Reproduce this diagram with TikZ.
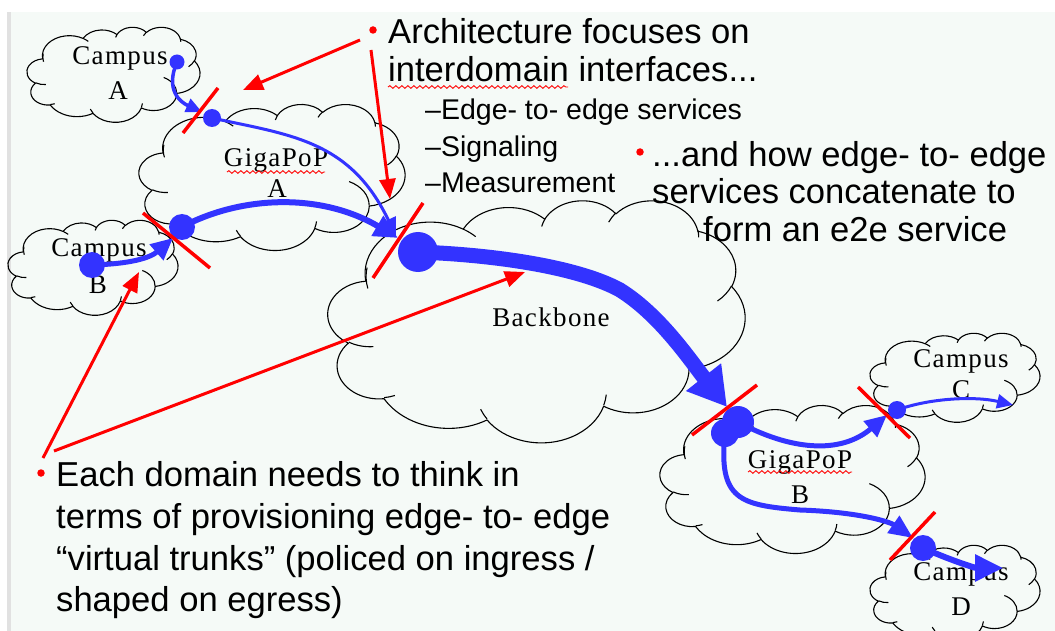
\documentclass[tikz,border=0pt]{standalone}
\usepackage{fontspec}
\setmainfont{Liberation Serif}
\newfontfamily\lblfont[LetterSpace=5]{Liberation Serif}
\newfontfamily\txtfont{Liberation Sans}
\usetikzlibrary{arrows.meta,decorations.pathmorphing}
\definecolor{panelbg}{RGB}{245,250,247}
\definecolor{pblue}{RGB}{51,51,255}
\definecolor{pred}{RGB}{255,0,0}
\definecolor{edgegray}{RGB}{225,225,225}

% DrawingML-style arc: wR hR stAng swAng (visual angles, degrees)
\newcommand\ooarc[4]{arc[x radius=#1,y radius=#2,start angle={atan2((#1)*sin(#3),(#2)*cos(#3))},delta angle={atan2((#1)*sin((#3)+(#4)),(#2)*cos((#3)+(#4)))-atan2((#1)*sin(#3),(#2)*cos(#3))-360*round((atan2((#1)*sin((#3)+(#4)),(#2)*cos((#3)+(#4)))-atan2((#1)*sin(#3),(#2)*cos(#3))-(#4))/360)}]}

\newcommand\cloudpath{%
 (39,143.7)
 \ooarc{67.53}{91.90}{-190.4875}{123.7805}
 \ooarc{53.33}{72.67}{-144.1024}{89.9452}
 \ooarc{43.65}{59.45}{-145.8079}{99.7230}
 \ooarc{48.57}{65.95}{-130.9861}{117.2417}
 \ooarc{53.33}{72.73}{-78.7089}{109.0269}
 \ooarc{67.75}{92.20}{-46.2673}{130.2690}
 \ooarc{57.85}{78.67}{0.6250}{114.0333}
 \ooarc{67.52}{92.15}{22.4516}{115.1726}
 \ooarc{77.20}{105.43}{66.2426}{75.7110}
 \ooarc{43.60}{59.18}{-274.9421}{146.7356}
 \ooarc{43.45}{59.45}{-246.8285}{152.5189}
 -- cycle}
\newcommand\cloudinner{%
 (46.93,261.77) \ooarc{43.45}{59.45}{86.7420}{26.4295}
 (69.28,348.99) \ooarc{43.60}{59.18}{73.6105}{11.4475}
 (164.78,390.90) \ooarc{67.52}{92.15}{137.6242}{14.0811}
 (288.27,347.51) \ooarc{67.52}{92.15}{6.4533}{15.9984}
 (341.29,229.54) \ooarc{57.85}{78.67}{-70.2924}{70.9174}
 (417.98,153.54) \ooarc{53.33}{72.73}{30.3180}{27.7515}
 (383.24,54.26) \ooarc{48.57}{65.95}{-13.7443}{14.8589}
 (290.78,39.52) \ooarc{48.57}{65.95}{-149.1815}{18.1954}
 (221.41,47.20) \ooarc{43.65}{59.45}{-163.4943}{17.6864}
 (140.00,51.92) \ooarc{67.53}{91.90}{-66.7070}{12.3194}
 (41.27,157.89) \ooarc{67.53}{91.90}{162.0380}{31.4554}}
\newcommand\drawcloud[5]{%
 \begin{scope}[shift={(#2,#3)},xscale=#4/432,yscale=#5/432]
  \draw[cloudline] \cloudpath;
  \draw[cloudline] \cloudinner;
  \coordinate (#1) at (216,216);
 \end{scope}}

\tikzset{
 cloudline/.style={draw=black,line width=1.1pt,line join=round},
 lbl/.style={font=\lblfont\fontsize{27}{31}\selectfont,anchor=base,inner sep=0pt},
 bigtxt/.style={font=\txtfont\fontsize{34.6}{40}\selectfont,anchor=base west,inner sep=0pt},
 subtxt/.style={font=\txtfont\fontsize{28.5}{33}\selectfont,anchor=base west,inner sep=0pt},
 bullet/.style={circle,fill=pred,inner sep=0pt,minimum size=7.5pt},
 bdot/.style={circle,fill=pblue,inner sep=0pt},
 bline/.style={draw=pblue,line cap=round},
 slash/.style={draw=pred,line width=3.5pt},
 rarrow/.style={draw=pred,line width=3pt,-{Triangle[length=20pt,width=16pt]}},
 wavy/.style={draw=pred,line width=0.9pt,decorate,decoration={snake,segment length=6pt,amplitude=1.3pt}}
}

\begin{document}
\begin{tikzpicture}[x=1pt,y=-1pt]
\useasboundingbox (0,0) rectangle (1055,631);
\fill[white] (0,0) rectangle (1055,631);
\fill[panelbg] (9,12) rectangle (1055,631);
\fill[edgegray] (7,12) rectangle (11,631);

% clouds
\drawcloud{cA}{27}{27}{173}{95}
\drawcloud{cGA}{139}{104}{266}{146}
\drawcloud{cB}{8}{220}{170}{95}
\drawcloud{cBB}{328}{200}{417}{242}
\drawcloud{cGB}{660}{405}{265}{148}
\drawcloud{cC}{870}{333}{170}{89}
\drawcloud{cD}{870}{545}{170}{95}

% cloud labels
\node[lbl] (lA1) at (120,65) {Campus};
\node[lbl] (lA2) at (118,100) {A};
\node[lbl] (lGA1) at (276,167) {GigaPoP};
\node[lbl] (lGA2) at (277,198) {A};
\node[lbl] (lB1) at (99,257) {Campus};
\node[lbl] (lB2) at (98,293) {B};
\node[lbl] (lBB) at (551,326) {Backbone};
\node[lbl] (lC1) at (961,367) {Campus};
\node[lbl] (lC2) at (961,398) {C};
\node[lbl] (lGB1) at (800,468) {GigaPoP};
\node[lbl] (lGB2) at (800,503) {B};
\node[lbl] (lD1) at (961,580) {Campus};
\node[lbl] (lD2) at (961,615) {D};
\draw[wavy] (227,172) -- (325,172);
\draw[wavy] (748,472) -- (852,472);

% blue dots
\node[bdot,minimum size=15pt] (dA) at (177,62) {};
\node[bdot,minimum size=18pt] (dGA1) at (212,118) {};
\node[bdot,minimum size=26pt] (dGA2) at (182,227) {};
\node[bdot,minimum size=26pt] (dB) at (92,265) {};
\node[bdot,minimum size=40pt] (dBB) at (418,252) {};
\node[bdot,minimum size=32pt] (dGB) at (738,422) {};
\node[bdot,minimum size=28pt] (dGB2) at (725,433) {};
\node[bdot,minimum size=18pt] (dC) at (897,410) {};
\node[bdot,minimum size=26pt] (dD) at (923,548) {};

% arrow tips
\coordinate (tA) at (202,112);
\coordinate (tGA1) at (396,236);
\coordinate (tGA2) at (398,238);
\coordinate (tB) at (173,238);
\coordinate (tBB) at (727,407);
\coordinate (tGBC) at (887,415);
\coordinate (tC) at (1013,405);
\coordinate (tGBD) at (913,538);
\coordinate (tD) at (1003,568);

% blue connectors
\draw[bline,line width=3.5pt,-{Triangle[length=16pt,width=14pt]}] (dA.center) .. controls (165,90) and (180,102) .. (tA);
\draw[bline,line width=3pt,-{Triangle[length=18pt,width=16pt]}] (dGA1.center) .. controls (290,135) and (350,140) .. (tGA1);
\draw[bline,line width=6pt,-{Triangle[length=24pt,width=22pt]}] (dGA2.center) .. controls (240,196) and (320,192) .. (tGA2);
\draw[bline,line width=5pt,-{Triangle[length=22pt,width=20pt]}] (dB.center) .. controls (130,264) and (150,258) .. (tB);
\draw[bline,line width=15pt,line cap=butt,-{Triangle[length=38pt,width=42pt]}] (dBB.center) .. controls (500,255) and (580,268) .. (620,290) .. controls (660,315) and (690,360) .. (tBB);
\draw[bline,line width=5pt,-{Triangle[length=22pt,width=20pt]}] (dGB.center) .. controls (790,450) and (840,455) .. (tGBC);
\draw[bline,line width=3pt,-{Triangle[length=16pt,width=14pt]}] (dC.center) .. controls (930,398) and (975,396) .. (tC);
\draw[bline,line width=5pt,-{Triangle[length=24pt,width=20pt]}] (dGB2.center) .. controls (718,500) and (740,505) .. (800,510) .. controls (860,512) and (890,522) .. (tGBD);
\draw[bline,line width=6pt,-{Triangle[length=28pt,width=26pt]}] (dD.center) .. controls (950,560) and (975,568) .. (tD);

% red interface slashes
\coordinate (s1a) at (183,133); \coordinate (s1b) at (218,88);
\coordinate (s2a) at (143,213); \coordinate (s2b) at (210,268);
\coordinate (s3a) at (373,278); \coordinate (s3b) at (423,203);
\coordinate (s4a) at (692,435); \coordinate (s4b) at (757,385);
\coordinate (s5a) at (858,387); \coordinate (s5b) at (910,438);
\coordinate (s6a) at (890,560); \coordinate (s6b) at (935,512);
\draw[slash] (s1a) -- (s1b);
\draw[slash] (s2a) -- (s2b);
\draw[slash] (s3a) -- (s3b);
\draw[slash] (s4a) -- (s4b);
\draw[slash] (s5a) -- (s5b);
\draw[slash] (s6a) -- (s6b);

% texts
\node[bullet] (bu1) at (373,30) {};
\node[bigtxt] (t1) at (388,44) {Architecture focuses on};
\node[bigtxt] (t2) at (388,82) {interdomain interfaces...};
\draw[wavy] (388,87) -- (568,87);
\node[subtxt] (st1) at (425,120) {–Edge- to- edge services};
\node[subtxt] (st2) at (425,157) {–Signaling};
\node[subtxt] (st3) at (425,193) {–Measurement};

\node[bullet] (bu2) at (640,152) {};
\node[bigtxt] (r1) at (652,167) {...and how edge- to- edge};
\node[bigtxt] (r2) at (652,204) {services concatenate to};
\node[bigtxt] (r3) at (703,242) {form an e2e service};

\node[bullet] (bu3) at (41,473) {};
\node[bigtxt] (b1) at (56,486) {Each domain needs to think in};
\node[bigtxt] (b2) at (56,528) {terms of provisioning edge- to- edge};
\node[bigtxt] (b3) at (56,570) {“virtual trunks” (policed on ingress /};
\node[bigtxt] (b4) at (56,611) {shaped on egress)};

% red pointer arrows
\coordinate (ra1s) at (360,40);  \coordinate (ra1t) at (243,90);
\coordinate (ra2s) at (371,50);  \coordinate (ra2t) at (390,199);
\coordinate (ra3s) at (43,458);  \coordinate (ra3t) at (139,272);
\coordinate (ra4s) at (54,451);  \coordinate (ra4t) at (525,272);
\draw[rarrow] (ra1s) -- (ra1t);
\draw[rarrow] (ra2s) -- (ra2t);
\draw[rarrow] (ra3s) -- (ra3t);
\draw[rarrow] (ra4s) -- (ra4t);
\end{tikzpicture}
\end{document}
